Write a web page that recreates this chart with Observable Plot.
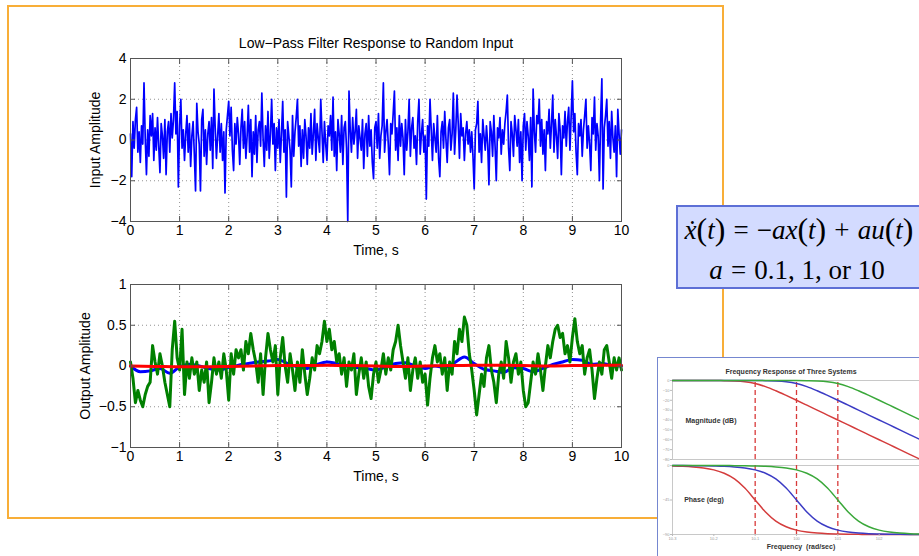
<!DOCTYPE html>
<html><head><meta charset="utf-8">
<script src="https://cdn.jsdelivr.net/npm/d3@7"></script>
<script src="https://cdn.jsdelivr.net/npm/@observablehq/plot@0.6"></script>
<style>
html,body{margin:0;padding:0;background:#fff;}
#root{position:relative;width:919px;height:556px;overflow:hidden;background:#fff;font-family:"Liberation Sans",Arial,sans-serif;}
.abs{position:absolute;}
.pa{font-size:1.18em;line-height:1;position:relative;top:0.04em;}
.op{padding:0 0.3em;}
</style></head><body><div id="root"></div>
<script>
// ---------- data ----------
const titleText = "Low\u2212Pass Filter Response to Random Input";
const timeTicks = [0,1,2,3,4,5,6,7,8,9,10];
const inputTicks = [-4,-2,0,2,4];
const outputTicks = [-1,-0.5,0,0.5,1];

// random input u(t), sampled every 0.025 s from 0 to 10 s
const inputAmp = [
 0.3,-1.8,0.9,-0.4,1.0,1.6,-0.6,0.4,-1.1,0.7,-0.2,2.8,0.1,-1.7,0.5,-0.8,1.2,0.2,1.3,-1.0,
 0.6,-0.5,1.1,-0.3,-1.6,0.8,0.2,-0.9,1.0,-1.7,0.4,0.9,-0.6,1.3,0.1,1.0,2.8,0.3,1.4,-2.3,
 0.7,2.0,-0.4,0.5,-1.0,0.3,1.2,-0.6,0.8,-1.3,0.2,0.9,-0.7,-2.5,1.8,0.4,-0.2,-2.5,1.0,1.5,
 -0.8,0.5,-1.2,0.3,0.9,-0.5,1.1,-1.4,2.5,0.6,-0.9,0.2,1.3,-0.6,0.8,-1.0,0.4,-2.6,0.5,1.2,
 1.9,0.2,1.6,-0.5,-1.5,0.8,-0.2,1.1,0.3,-1.2,0.6,1.5,-0.4,0.9,-0.9,0.2,1.7,-0.6,1.0,-1.8,
 0.4,-0.7,1.2,-1.1,0.5,0.9,-0.3,2.3,0.1,-1.3,0.7,-0.5,1.4,-0.9,0.3,2.0,-0.2,0.8,-1.5,0.6,
 -0.4,1.0,-1.1,0.3,1.9,-0.6,0.5,-2.8,0.9,0.2,-0.5,-2.3,1.2,-0.8,0.4,1.1,2.0,-0.3,0.7,-1.3,
 0.5,-0.9,1.0,0.2,-1.2,0.6,-0.4,1.3,-0.7,0.3,1.5,-1.0,0.8,0.1,-0.6,2.0,0.4,-1.1,0.9,-0.2,
 -1.0,0.7,0.2,1.2,-0.5,2.1,-0.8,0.4,-1.5,1.0,0.3,-0.6,1.2,-1.2,0.6,0.9,-0.4,-4.0,2.4,0.5,
 -0.6,1.1,-0.2,0.4,1.5,-0.9,0.7,0.1,-0.5,1.0,-1.4,0.3,0.8,-0.8,1.2,-0.3,0.5,-1.1,-1.9,0.6,
 0.9,-0.4,1.3,-0.9,0.2,0.7,2.8,-0.6,0.4,1.0,-0.2,-1.7,0.8,0.3,1.3,2.4,-0.5,0.6,-1.0,1.2,
 -0.3,0.8,0.1,-1.7,1.0,-0.5,0.4,2.0,-0.8,0.6,1.1,-0.4,0.2,-1.2,0.9,2.0,-0.7,0.3,1.0,-0.6,
 0.2,-2.9,0.7,-0.3,2.0,0.5,-1.0,0.8,0.1,-0.6,1.2,-0.9,-1.8,0.4,0.9,-0.4,1.4,0.0,-1.1,0.6,
 1.0,-0.5,0.3,2.3,-0.7,0.5,2.2,0.8,-0.9,1.3,0.2,0.6,-1.0,0.3,0.9,-0.2,0.5,-0.6,0.4,-0.8,
 -2.4,0.5,0.8,1.9,-0.6,0.3,-1.1,1.0,0.2,-0.5,0.7,-0.2,-2.2,0.9,0.4,-0.8,1.2,-0.3,-2.0,0.6,
 0.1,1.1,-0.7,0.5,-0.2,0.8,1.4,2.2,-0.4,-1.5,0.9,0.3,-0.8,1.2,0.5,-0.3,1.0,-1.1,0.4,-2.0,
 0.7,1.3,-0.5,0.9,0.2,-1.0,1.1,-2.3,2.5,0.4,-0.6,1.2,0.8,2.0,-0.3,1.0,-0.7,0.5,-1.5,0.9,
 0.3,1.5,-0.4,0.8,2.2,-0.6,1.0,0.2,-0.9,1.3,0.5,-1.7,0.7,0.1,1.4,-0.3,0.9,1.6,-0.5,1.2,
 2.9,0.4,1.3,-0.6,-1.7,0.8,0.2,1.0,-0.8,0.5,1.2,2.0,-0.4,0.7,-0.2,-1.5,1.1,0.3,2.1,-0.5,
 0.8,0.2,-2.0,1.0,3.0,-2.4,0.6,1.2,2.0,-0.3,0.9,-0.9,1.4,0.1,-0.6,0.7,-1.8,1.5,0.3,-0.7,
 0.5
];

// output for a = 10 (green), every 0.05 s
const outA10 = [
 0.05,-0.15,-0.45,-0.3,-0.42,-0.5,-0.35,-0.25,-0.2,0.25,0.05,-0.1,0.15,0.0,-0.2,-0.35,-0.5,0.2,0.55,0.1,
 -0.05,0.45,-0.35,0.05,-0.15,0.1,-0.1,0.05,-0.3,-0.05,-0.2,0.05,-0.45,-0.2,0.1,-0.1,0.05,-0.15,0.15,-0.05,
 -0.42,0.15,-0.1,0.2,0.1,0.2,-0.05,0.3,0.15,0.4,0.2,0.05,-0.2,0.15,-0.35,0.1,0.4,0.2,0.05,0.25,
 -0.35,0.1,0.35,0.0,-0.2,0.15,-0.05,-0.3,0.05,-0.2,0.2,-0.1,-0.35,-0.15,0.1,-0.05,0.25,0.15,0.3,0.55,
 0.3,0.45,0.2,0.3,0.05,0.15,-0.1,0.1,-0.25,0.05,-0.05,0.15,-0.35,-0.1,0.1,-0.15,0.05,-0.25,-0.4,-0.1,
 0.05,-0.2,-0.05,0.15,-0.1,0.1,-0.05,0.2,0.3,0.5,0.25,0.05,-0.15,0.1,-0.3,-0.05,0.1,-0.15,0.05,-0.2,
 -0.1,-0.48,-0.15,0.1,0.25,0.05,0.15,-0.1,0.1,-0.3,0.05,-0.1,0.3,0.15,0.45,0.3,0.6,0.5,0.15,-0.05,
 -0.3,-0.6,-0.35,-0.1,-0.25,0.1,0.25,-0.05,-0.2,-0.45,-0.1,0.05,-0.15,0.3,0.1,-0.2,0.05,0.15,-0.1,0.05,
 -0.3,-0.5,-0.45,-0.2,0.05,-0.1,0.15,-0.05,-0.3,0.0,0.25,0.1,0.3,0.45,0.5,0.35,0.4,0.15,0.25,0.05,
 0.35,0.58,0.3,0.15,0.25,-0.1,0.1,0.2,-0.05,-0.4,-0.15,0.05,-0.1,0.2,0.25,0.05,-0.15,0.1,-0.05,0.1,
 -0.05
];

// output for a = 1 (blue), every 0.2 s
const outA1 = [
 0.0,-0.07,-0.06,-0.03,-0.09,-0.01,0.02,0.0,-0.03,-0.05,-0.02,0.01,0.03,0.05,0.06,0.08,0.03,-0.01,-0.03,0.02,
 0.05,0.03,0.0,-0.02,-0.03,-0.05,-0.01,0.03,0.04,0.0,-0.03,0.0,-0.02,0.04,0.11,0.03,-0.04,-0.06,-0.08,-0.02,
 -0.03,-0.07,-0.03,0.02,0.05,0.08,0.07,0.02,0.03,0.01,0.0
];

// output for a = 0.1 (red), every 0.5 s
const outA01 = [0.0,-0.005,-0.01,-0.01,-0.005,0.0,0.005,0.005,0.01,0.005,0.0,-0.005,0.0,0.005,0.01,0.01,0.005,0.0,0.005,0.01,0.01];

// inset: frequency response of three systems
const freq = [0.001,0.00178,0.00316,0.00562,0.01,0.0178,0.0316,0.0562,0.1,0.178,0.316,0.562,1,1.78,3.16,5.62,10,17.8,31.6,56.2,100,178,316,562,1000];
const magA01 = [0,0,0,-0.01,-0.04,-0.14,-0.41,-1.2,-3,-6.2,-10.4,-15.1,-20,-25,-30,-35,-40,-45,-50,-55,-60,-65,-70,-75,-80];
const magA1  = [0,0,0,0,0,0,0,-0.01,-0.04,-0.14,-0.41,-1.2,-3,-6.2,-10.4,-15.1,-20,-25,-30,-35,-40,-45,-50,-55,-60];
const magA10 = [0,0,0,0,0,0,0,0,0,0,0,-0.01,-0.04,-0.14,-0.41,-1.2,-3,-6.2,-10.4,-15.1,-20,-25,-30,-35,-40];
const phA01 = [-0.6,-1.0,-1.8,-3.2,-5.7,-10.1,-17.5,-29.4,-45,-60.6,-72.5,-79.9,-84.3,-86.8,-88.2,-89.0,-89.4,-89.7,-89.8,-89.9,-89.9,-90,-90,-90,-90];
const phA1  = [-0.06,-0.1,-0.18,-0.32,-0.6,-1.0,-1.8,-3.2,-5.7,-10.1,-17.5,-29.4,-45,-60.6,-72.5,-79.9,-84.3,-86.8,-88.2,-89.0,-89.4,-89.7,-89.8,-89.9,-89.9];
const phA10 = [0,0,0,0,-0.06,-0.1,-0.18,-0.32,-0.6,-1.0,-1.8,-3.2,-5.7,-10.1,-17.5,-29.4,-45,-60.6,-72.5,-79.9,-84.3,-86.8,-88.2,-89.0,-89.4];
const cornerFreqs = [0.1, 1, 10];
const magTicks = [0,-10,-20,-30,-40,-50,-60,-70,-80];
const phaseTicks = [0,-45,-90];
const freqTicks = [0.001,0.01,0.1,1,10,100];

// ---------- layout ----------
const root = document.getElementById("root");
function box(css) {
  const el = document.createElement("div");
  el.className = "abs";
  Object.assign(el.style, css);
  root.appendChild(el);
  return el;
}
function label(parent, html, x, y, css = {}, rotate = 0) {
  const el = document.createElement("div");
  el.className = "abs";
  el.innerHTML = html;
  Object.assign(el.style, {left: x + "px", top: y + "px",
    transform: "translate(-50%,-50%)" + (rotate ? ` rotate(${rotate}deg)` : ""),
    whiteSpace: "nowrap", lineHeight: "1", ...css});
  parent.appendChild(el);
  return el;
}

// orange slide box
box({left: "7px", top: "5px", width: "713px", height: "510px", border: "2px solid #f8ae38"});

const fmt = d => (d < 0 ? "\u2212" : "") + Math.abs(d);
const series = (arr, dt) => arr.map((v, i) => ({t: i * dt, v}));

function matlabAxes({height, mt, mb, yDomain, yTicks, marks}) {
  return Plot.plot({
    width: 660, height,
    marginLeft: 130, marginRight: 39, marginTop: mt, marginBottom: mb,
    style: {fontFamily: "'Liberation Sans', Arial, sans-serif", fontSize: "14px", color: "#000", background: "transparent", overflow: "visible"},
    x: {domain: [0, 10]},
    y: {domain: yDomain},
    marks: [
      Plot.gridX(timeTicks.slice(1, -1), {stroke: "#777", strokeOpacity: 0.8, strokeDasharray: "1,3"}),
      Plot.gridY(yTicks.slice(1, -1), {stroke: "#777", strokeOpacity: 0.8, strokeDasharray: "1,3"}),
      ...marks,
      Plot.frame({stroke: "#555", strokeWidth: 1}),
      Plot.axisX(timeTicks, {anchor: "bottom", tickSize: -5, tickPadding: 9, tickFormat: fmt, label: null, stroke: "#555"}),
      Plot.axisX(timeTicks, {anchor: "top", tickSize: -5, tickFormat: () => "", label: null, stroke: "#555"}),
      Plot.axisY(yTicks, {anchor: "left", tickSize: -5, tickPadding: 9, tickFormat: fmt, label: null, stroke: "#555"}),
      Plot.axisY(yTicks, {anchor: "right", tickSize: -5, tickFormat: () => "", label: null, stroke: "#555"})
    ]
  });
}

const topPlot = matlabAxes({
  height: 265, mt: 58, mb: 44, yDomain: [-4, 4], yTicks: inputTicks,
  marks: [Plot.line(series(inputAmp, 10 / (inputAmp.length - 1)), {x: "t", y: "v", stroke: "#0000ff", strokeWidth: 1.7})]
});
Object.assign(topPlot.style, {position: "absolute", left: "0px", top: "0px"});
root.appendChild(topPlot);

const botPlot = matlabAxes({
  height: 225, mt: 19, mb: 43, yDomain: [-1, 1], yTicks: outputTicks,
  marks: [
    Plot.line(series(outA1, 10 / (outA1.length - 1)), {x: "t", y: "v", stroke: "#0000ff", strokeWidth: 3, curve: "monotone-x"}),
    Plot.line(series(outA10, 10 / (outA10.length - 1)), {x: "t", y: "v", stroke: "#008000", strokeWidth: 3}),
    Plot.line(series(outA01, 10 / (outA01.length - 1)), {x: "t", y: "v", stroke: "#ff0000", strokeWidth: 3, curve: "monotone-x"})
  ]
});
Object.assign(botPlot.style, {position: "absolute", left: "0px", top: "265px"});
root.appendChild(botPlot);

const txt = {fontSize: "14px", color: "#000"};
label(root, titleText, 376, 43, txt);
label(root, "Time, s", 376, 250, txt);
label(root, "Time, s", 376, 476, txt);
label(root, "Input Amplitude", 95, 140, txt, -90);
label(root, "Output Amplitude", 85, 366, txt, -90);

// equation box
box({left: "676px", top: "205px", width: "260px", height: "80px", background: "#d3dbff", border: "2px solid #5d6fd6"});
const eq = {fontFamily: "'Liberation Serif', 'Times New Roman', serif", fontSize: "27px", color: "#000"};
const P = s => `<span class="pa">${s}</span>`;
const O = s => `<span class="op">${s}</span>`;
label(root, `<i>x\u0307</i>${P("(")}<i>t</i>${P(")")}${O("=")}\u2212<i>ax</i>${P("(")}<i>t</i>${P(")")}${O("+")}<i>au</i>${P("(")}<i>t</i>${P(")")}`, 799, 229, eq);
label(root, `<i>a</i>${O("=")}0.1, 1, or 10`, 797, 270, eq);

// inset
const inset = box({left: "657px", top: "357px", width: "280px", height: "210px", background: "#fff",
  borderLeft: "1.5px solid #7587d0", borderTop: "1.5px solid #7587d0", overflow: "hidden"});
const bodeStyle = {fontFamily: "'Liberation Sans', Arial, sans-serif", fontSize: "4px", color: "#999", background: "transparent", overflow: "visible"};
function long(a, b, c) {
  return [["a01", a], ["a1", b], ["a10", c]].flatMap(([s, arr]) => arr.map((v, i) => ({f: freq[i], v, s})));
}
const sysColor = {domain: ["a01", "a1", "a10"], range: ["#d43c3c", "#3b3bc4", "#3aa83a"]};
const magPlot = Plot.plot({
  width: 280, height: 105, marginLeft: 14, marginRight: 18, marginTop: 22, marginBottom: 4,
  style: bodeStyle,
  x: {type: "log", domain: [0.001, 1000]},
  y: {domain: [-80, 0]},
  color: sysColor,
  marks: [
    Plot.frame({stroke: "#c8c8c8"}),
    Plot.ruleX(cornerFreqs, {stroke: "#d83a3a", strokeWidth: 1.3, strokeDasharray: "5,3", y1: -80, y2: -2}),
    Plot.line(long(magA01, magA1, magA10), {x: "f", y: "v", z: "s", stroke: "s", strokeWidth: 1.5, curve: "monotone-x"}),
    Plot.axisY(magTicks, {anchor: "left", tickSize: 2, tickPadding: 1, label: null, stroke: "#bbb"}),
    Plot.axisX({ticks: [], label: null})
  ]
});
Object.assign(magPlot.style, {position: "absolute", left: "0px", top: "0px"});
inset.appendChild(magPlot);

const phPlot = Plot.plot({
  width: 280, height: 92, marginLeft: 14, marginRight: 18, marginTop: 4, marginBottom: 19,
  style: bodeStyle,
  x: {type: "log", domain: [0.001, 1000]},
  y: {domain: [-90, 0]},
  color: sysColor,
  marks: [
    Plot.frame({stroke: "#c8c8c8"}),
    Plot.ruleX(cornerFreqs, {stroke: "#d83a3a", strokeWidth: 1.3, strokeDasharray: "5,3"}),
    Plot.line(long(phA01, phA1, phA10), {x: "f", y: "v", z: "s", stroke: "s", strokeWidth: 1.5, curve: "monotone-x"}),
    Plot.axisY(phaseTicks, {anchor: "left", tickSize: 2, tickPadding: 1, label: null, stroke: "#bbb"}),
    Plot.axisX(freqTicks, {anchor: "bottom", tickSize: 2, tickPadding: 1, label: null, stroke: "#bbb", tickFormat: d => "10" + (Math.round(Math.log10(d)))})
  ]
});
Object.assign(phPlot.style, {position: "absolute", left: "0px", top: "103px"});
inset.appendChild(phPlot);

const small = {fontSize: "7px", fontWeight: "bold", color: "#333", fontFamily: "'Liberation Sans', Arial, sans-serif"};
label(inset, "Frequency Response of Three Systems", 133, 13, small);
label(inset, "Magnitude (dB)", 53, 62, small);
label(inset, "Phase (deg)", 46, 141, small);
label(inset, "Frequency&nbsp;&nbsp;(rad/sec)", 143, 188, small);
</script>
</body></html>
